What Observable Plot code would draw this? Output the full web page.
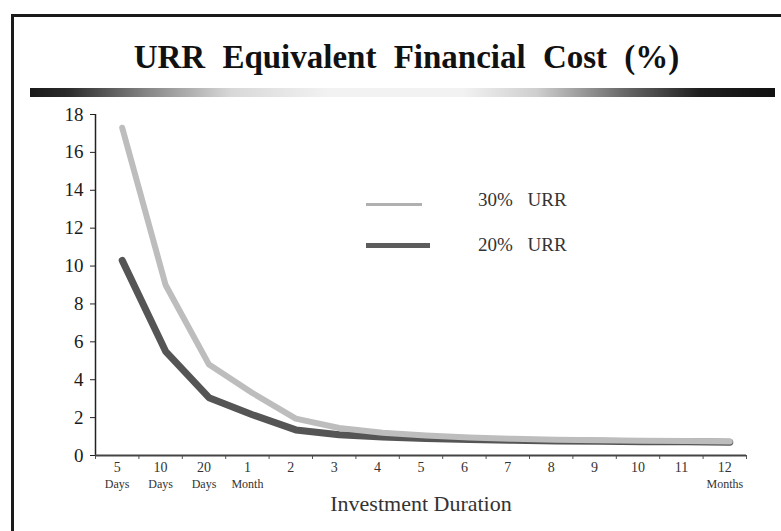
<!DOCTYPE html>
<html><head><meta charset="utf-8">
<script src="https://cdn.jsdelivr.net/npm/d3@7"></script>
<script src="https://cdn.jsdelivr.net/npm/@observablehq/plot@0.6"></script>
<style>
html,body{margin:0;padding:0;background:#fff;width:781px;height:531px;overflow:hidden;}
#wrap{position:relative;width:781px;height:531px;}
#frame{position:absolute;left:11px;top:14px;width:820px;height:580px;border:3px solid #1a1a1a;box-sizing:border-box;pointer-events:none;}
#header{height:100px;position:relative;}
#title{position:absolute;left:16px;width:781px;top:39px;text-align:center;font-family:"Liberation Serif";font-weight:bold;font-size:33px;word-spacing:9px;color:#111;line-height:36px;}
#bar{position:absolute;left:30px;top:88px;width:745px;height:9px;background:linear-gradient(to right,#1a1a1a 0%,#2a2a2a 5%,#888 16%,#d8d8d8 27%,#f2f2f2 40%,#f2f2f2 58%,#cfcfcf 68%,#666 80%,#1e1e1e 90%,#111 100%);}
.leg{position:absolute;font-family:"Liberation Serif";font-size:19px;word-spacing:10px;color:#333;line-height:22px;}
.lline{position:absolute;}
#chart{position:relative;}
</style></head>
<body>
<div id="wrap">
  <div id="header">
    <div id="title">URR Equivalent Financial Cost (%)</div>
    <div id="bar"></div>
  </div>
  <div id="chart"></div>
  <div class="lline" id="l30" style="left:366px;top:203px;width:56px;height:3px;"></div>
  <div class="leg" id="t30" style="left:478px;top:189px;"></div>
  <div class="lline" id="l20" style="left:366px;top:243px;width:64px;height:5px;"></div>
  <div class="leg" id="t20" style="left:478px;top:234px;"></div>
  <div id="frame"></div>
</div>
<script>
const categories = ["5 Days","10 Days","20 Days","1 Month","2","3","4","5","6","7","8","9","10","11","12 Months"];
const tickLine1 = ["5","10","20","1","2","3","4","5","6","7","8","9","10","11","12"];
const tickLine2 = ["Days","Days","Days","Month","","","","","","","","","","","Months"];
const seriesNames = ["30% URR","20% URR"];
const urr30 = [17.3, 9.0, 4.8, 3.3, 1.95, 1.45, 1.2, 1.05, 0.95, 0.88, 0.83, 0.8, 0.78, 0.76, 0.74];
const urr20 = [10.3, 5.5, 3.05, 2.15, 1.35, 1.1, 0.98, 0.9, 0.85, 0.8, 0.77, 0.75, 0.73, 0.72, 0.7];
const yTicks = [0,2,4,6,8,10,12,14,16,18];
const colors = {"30% URR": "#bdbdbd", "20% URR": "#555555"};

const d30 = urr30.map((v,i)=>({i, v, cat: categories[i]}));
const d20 = urr20.map((v,i)=>({i, v, cat: categories[i]}));
const bounds = d3.range(categories.length + 1).map(k => k - 0.5);
const lab1 = tickLine1.map((t,i)=>({i, t}));
const lab2 = tickLine2.map((t,i)=>({i, t})).filter(d => d.t !== "");

document.getElementById("t30").textContent = seriesNames[0];
document.getElementById("t20").textContent = seriesNames[1];
document.getElementById("l30").style.background = "#b0b0b0";
document.getElementById("l20").style.background = "#5c5c5c";

const chart = Plot.plot({
  width: 781,
  height: 431,
  marginTop: 14,
  marginBottom: 76,
  marginLeft: 95,
  marginRight: 35,
  style: {fontFamily: "Liberation Serif", fontSize: "17px", color: "#222", background: "transparent"},
  x: {type: "linear", domain: [bounds[0], bounds[bounds.length-1]]},
  y: {domain: [0, 18]},
  marks: [
    Plot.axisY({ticks: yTicks, tickSize: 5, tickPadding: 7, fontSize: 19, label: null, stroke: "#222", fill: "#1a1a1a"}),
    Plot.axisX({ticks: bounds, tickFormat: () => "", tickSize: 4, label: null, stroke: "#555"}),
    Plot.ruleX([bounds[0]], {y1: 0, y2: 18, stroke: "#222", strokeWidth: 1.5}),
    Plot.ruleY([0], {x1: bounds[0], x2: bounds[bounds.length-1], stroke: "#444", strokeWidth: 2}),
    Plot.line(d20, {x: "i", y: "v", stroke: colors["20% URR"], strokeWidth: 7, dx: 5, strokeLinejoin: "round"}),
    Plot.line(d30, {x: "i", y: "v", stroke: colors["30% URR"], strokeWidth: 6, dx: 5, strokeLinejoin: "round"}),
    Plot.text(lab1, {x: "i", y: () => 0, text: "t", dy: 12, fontSize: 14, fill: "#333"}),
    Plot.text(lab2, {x: "i", y: () => 0, text: "t", dy: 29, fontSize: 12, fill: "#333"}),
    Plot.text(["Investment Duration"], {frameAnchor: "bottom", dy: 55, text: d=>d, fontSize: 22, fill: "#333"})
  ]
});
document.getElementById("chart").appendChild(chart);
</script>
</body></html>
